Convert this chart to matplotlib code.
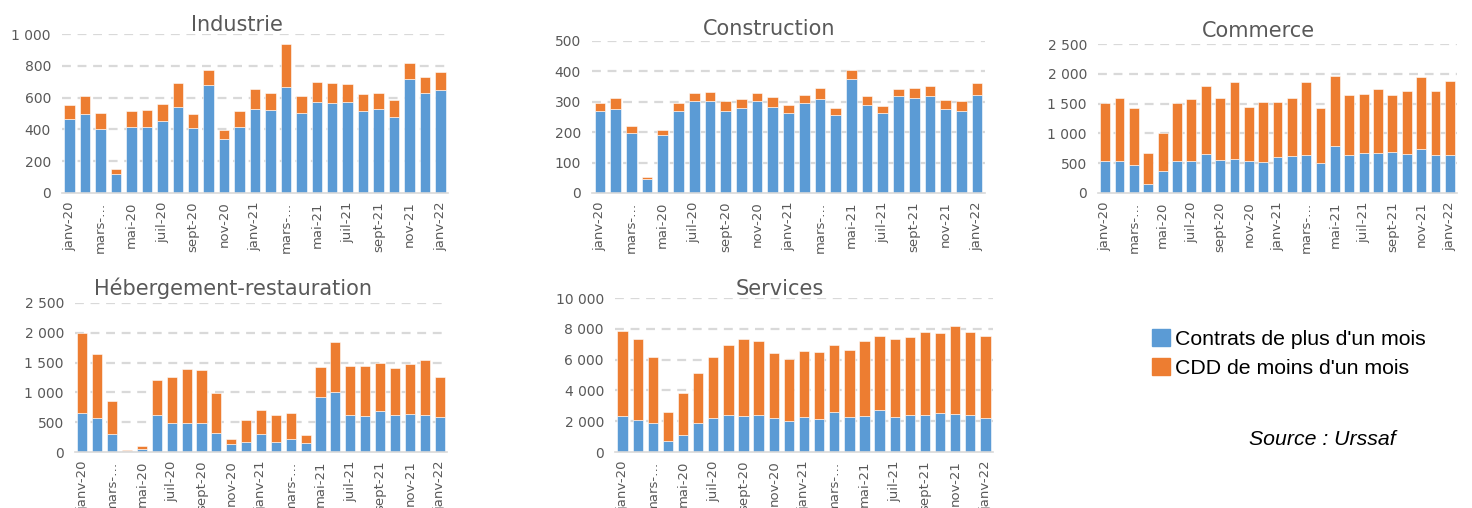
import matplotlib
matplotlib.use("Agg")
import matplotlib.pyplot as plt
from matplotlib.patches import Patch

# --- data ---
months = ["janv-20", "févr-20", "mars-…", "avr-20", "mai-20", "juin-20", "juil-20",
          "août-20", "sept-20", "oct-20", "nov-20", "déc-20", "janv-21", "févr-21",
          "mars-…", "avr-21", "mai-21", "juin-21", "juil-21", "août-21", "sept-21",
          "oct-21", "nov-21", "déc-21", "janv-22"]

industrie_long = [465, 495, 403, 118, 418, 415, 455, 542, 410, 680, 340, 415, 528,
                  520, 668, 505, 572, 567, 572, 517, 528, 480, 720, 632, 645]
industrie_total = [553, 612, 502, 150, 513, 520, 562, 690, 498, 773, 395, 513, 653,
                   630, 935, 607, 697, 690, 688, 623, 628, 583, 820, 732, 763]

construction_long = [270, 277, 197, 47, 190, 270, 303, 303, 269, 279, 303, 283, 263,
                     295, 310, 256, 374, 290, 263, 318, 313, 318, 277, 269, 323]
construction_total = [295, 312, 222, 54, 208, 295, 330, 333, 301, 309, 329, 315, 290,
                      323, 346, 278, 404, 318, 287, 341, 344, 351, 307, 303, 361]

commerce_long = [537, 542, 475, 145, 369, 537, 537, 654, 554, 576, 537, 520, 598,
                 621, 638, 503, 783, 643, 666, 671, 688, 649, 738, 643, 643]
commerce_total = [1504, 1600, 1426, 671, 1001, 1504, 1572, 1790, 1588, 1868, 1449,
                  1521, 1532, 1594, 1868, 1421, 1963, 1644, 1655, 1751, 1639, 1717,
                  1952, 1717, 1884]

hebergement_long = [654, 570, 308, 10, 50, 621, 487, 492, 492, 319, 134, 162, 302,
                    173, 224, 145, 923, 1001, 626, 598, 682, 621, 638, 621, 587]
hebergement_total = [1997, 1644, 861, 34, 95, 1214, 1264, 1393, 1381, 990, 224, 542,
                     705, 615, 654, 285, 1421, 1851, 1443, 1449, 1493, 1415, 1476,
                     1549, 1258]

services_long = [2338, 2056, 1883, 714, 1104, 1883, 2208, 2424, 2338, 2381, 2229,
                 1991, 2273, 2121, 2619, 2294, 2338, 2727, 2273, 2403, 2424, 2532,
                 2468, 2381, 2229]
services_total = [7835, 7338, 6190, 2576, 3853, 5152, 6190, 6970, 7359, 7186, 6450,
                  6061, 6558, 6515, 6926, 6645, 7186, 7554, 7338, 7489, 7771, 7727,
                  8182, 7814, 7511]

BLUE = "#5B9BD5"
ORANGE = "#ED7D31"
GREY = "#595959"
GRID = "#D9D9D9"

W, H = 1472, 508
fig = plt.figure(figsize=(W / 100, H / 100), dpi=100)


def fmt(v):
    return f"{v:,.0f}".replace(",", " ")


def panel(x0, x1, ytop, ybot, long_, total, ymax, step, title, tx, ty):
    ax = fig.add_axes([x0 / W, 1 - ybot / H, (x1 - x0) / W, (ybot - ytop) / H])
    short = [t - l for t, l in zip(total, long_)]
    x = range(len(months))
    ax.bar(x, long_, width=0.68, color=BLUE, edgecolor="white", linewidth=0.4, zorder=3)
    ax.bar(x, short, bottom=long_, width=0.68, color=ORANGE, edgecolor="white",
           linewidth=0.4, zorder=3)
    ax.set_xlim(-0.5, len(months) - 0.5)
    ax.set_ylim(0, ymax)
    yt = list(range(0, ymax + 1, step))
    ax.set_yticks(yt)
    ax.set_yticklabels([fmt(v) for v in yt], color=GREY, fontsize=10)
    ax.set_xticks(range(0, len(months), 2))
    ax.set_xticklabels(months[::2], rotation=90, color=GREY, fontsize=9.5,
                       va="top", ha="center")
    ax.tick_params(length=0, pad=6)
    ax.tick_params(axis="y", pad=8)
    for y in yt[1:]:
        ax.axhline(y, color=GRID, lw=1.6, ls=(0, (4, 3)), zorder=1)
    for s in ["top", "right", "left"]:
        ax.spines[s].set_visible(False)
    ax.spines["bottom"].set_color(GRID)
    ax.spines["bottom"].set_linewidth(1.2)
    ax.spines["bottom"].set_zorder(4)
    fig.text(tx / W, 1 - ty / H, title, ha="center", va="baseline",
             fontsize=15, color=GREY)
    return ax


panel(62, 448, 34, 193, industrie_long, industrie_total, 1000, 200,
      "Industrie", 237, 31)
panel(592, 985, 41, 193, construction_long, construction_total, 500, 100,
      "Construction", 769, 35)
panel(1098, 1457, 44, 193, commerce_long, commerce_total, 2500, 500,
      "Commerce", 1258, 37)
panel(75, 447, 303, 452, hebergement_long, hebergement_total, 2500, 500,
      "Hébergement-restauration", 233, 295)
panel(615, 993, 298, 452, services_long, services_total, 10000, 2000,
      "Services", 780, 295)

handles = [Patch(color=BLUE, label="Contrats de plus d'un mois"),
           Patch(color=ORANGE, label="CDD de moins d'un mois")]
fig.legend(handles=handles, loc="upper left", bbox_to_anchor=(1152 / W, 1 - 329 / H),
           frameon=False, prop={"family": "Liberation Sans", "size": 15.3},
           handlelength=0.85, handleheight=0.85, handletextpad=0.25, labelspacing=0.45,
           borderaxespad=0, borderpad=0)
fig.text(1322 / W, 1 - 445 / H, "Source : Urssaf", ha="center", va="baseline",
         fontsize=15.3, style="italic", family="Liberation Sans")

fig.savefig("out.png", dpi=100)
